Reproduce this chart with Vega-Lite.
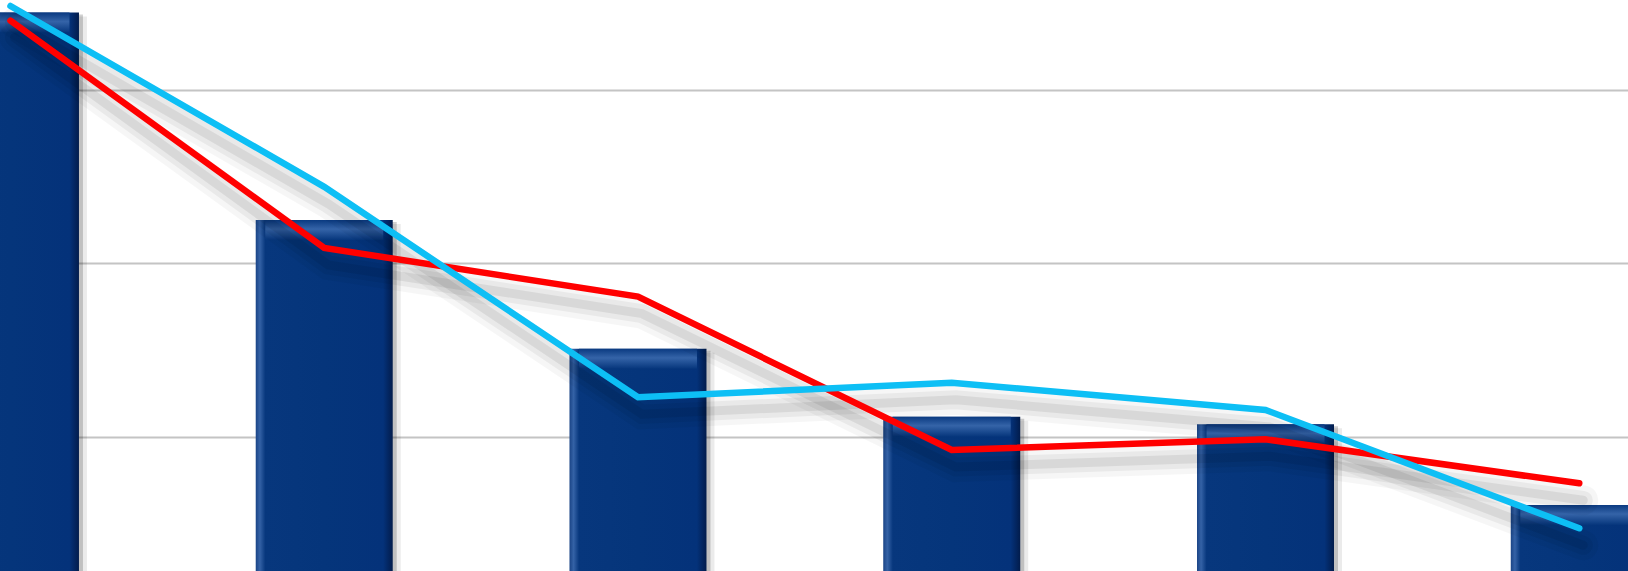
{
  "$schema": "https://vega.github.io/schema/vega-lite/v6.json",
  "width": 1628,
  "height": 571,
  "autosize": "none",
  "padding": 0,
  "background": "white",
  "data": {
    "values": [
      {"i": 0, "bar": 34.46, "red": 34.0, "blue": 34.84},
      {"i": 1, "bar": 22.5, "red": 20.9, "blue": 24.42},
      {"i": 2, "bar": 15.08, "red": 18.09, "blue": 12.29},
      {"i": 3, "bar": 11.17, "red": 9.25, "blue": 13.13},
      {"i": 4, "bar": 10.73, "red": 9.87, "blue": 11.56},
      {"i": 5, "bar": 6.08, "red": 7.33, "blue": 4.74}
    ]
  },
  "encoding": {
    "x": {
      "field": "i",
      "type": "quantitative",
      "scale": {"domain": [-0.01742, 5.1394], "nice": false, "zero": false},
      "axis": null
    }
  },
  "layer": [
    {
      "mark": {"type": "bar", "width": 137, "xOffset": 8, "yOffset": 4, "color": "#000000", "opacity": 0.08, "clip": true},
      "encoding": {
        "y": {
          "field": "bar",
          "type": "quantitative",
          "scale": {"domain": [2.277, 35.187], "nice": false, "zero": false},
          "axis": {
            "values": [10, 20, 30],
            "grid": true,
            "labels": false,
            "ticks": false,
            "domain": false,
            "title": null,
            "gridColor": "#c4c4c4",
            "gridWidth": 2
          }
        },
        "y2": {"datum": 0}
      }
    },
    {
      "mark": {"type": "bar", "width": 137, "xOffset": 4, "yOffset": 2, "color": "#000000", "opacity": 0.18, "clip": true},
      "encoding": {
        "y": {"field": "bar", "type": "quantitative"},
        "y2": {"datum": 0}
      }
    },
    {
      "mark": {
        "type": "bar",
        "width": 137,
        "clip": true,
        "color": {
          "gradient": "linear",
          "x1": 0, "y1": 0, "x2": 1, "y2": 0,
          "stops": [
            {"offset": 0, "color": "#1a4486"},
            {"offset": 0.03, "color": "#3462a6"},
            {"offset": 0.07, "color": "#07377d"},
            {"offset": 0.5, "color": "#05357b"},
            {"offset": 0.93, "color": "#04327a"},
            {"offset": 1, "color": "#021c4c"}
          ]
        }
      },
      "encoding": {
        "y": {"field": "bar", "type": "quantitative"},
        "y2": {"datum": 0}
      }
    },
    {
      "mark": {
        "type": "bar",
        "width": 118,
        "y2Offset": 20,
        "color": {
          "gradient": "linear",
          "x1": 0, "y1": 0, "x2": 0, "y2": 1,
          "stops": [
            {"offset": 0, "color": "#0b3b82"},
            {"offset": 0.45, "color": "#3a69ad"},
            {"offset": 1, "color": "#06367c"}
          ]
        },
        "opacity": 0.9
      },
      "encoding": {
        "y": {"field": "bar", "type": "quantitative"},
        "y2": {"field": "bar"}
      }
    },
    {
      "mark": {"type": "line", "color": "#000000", "opacity": 0.035, "strokeWidth": 30, "xOffset": 4, "yOffset": 17, "strokeCap": "round"},
      "encoding": {"y": {"field": "red", "type": "quantitative"}}
    },
    {
      "mark": {"type": "line", "color": "#000000", "opacity": 0.05, "strokeWidth": 19, "xOffset": 4, "yOffset": 17, "strokeCap": "round"},
      "encoding": {"y": {"field": "red", "type": "quantitative"}}
    },
    {
      "mark": {"type": "line", "color": "#000000", "opacity": 0.07, "strokeWidth": 9, "xOffset": 4, "yOffset": 17, "strokeCap": "round"},
      "encoding": {"y": {"field": "red", "type": "quantitative"}}
    },
    {
      "mark": {"type": "line", "color": "#000000", "opacity": 0.035, "strokeWidth": 30, "xOffset": 4, "yOffset": 17, "strokeCap": "round"},
      "encoding": {"y": {"field": "blue", "type": "quantitative"}}
    },
    {
      "mark": {"type": "line", "color": "#000000", "opacity": 0.05, "strokeWidth": 19, "xOffset": 4, "yOffset": 17, "strokeCap": "round"},
      "encoding": {"y": {"field": "blue", "type": "quantitative"}}
    },
    {
      "mark": {"type": "line", "color": "#000000", "opacity": 0.07, "strokeWidth": 9, "xOffset": 4, "yOffset": 17, "strokeCap": "round"},
      "encoding": {"y": {"field": "blue", "type": "quantitative"}}
    },
    {
      "mark": {"type": "line", "color": "#ff0000", "strokeWidth": 6.5, "strokeCap": "round"},
      "encoding": {"y": {"field": "red", "type": "quantitative"}}
    },
    {
      "mark": {"type": "line", "color": "#0dbff5", "strokeWidth": 6.5, "strokeCap": "round"},
      "encoding": {"y": {"field": "blue", "type": "quantitative"}}
    }
  ],
  "config": {
    "view": {"stroke": null}
  }
}
